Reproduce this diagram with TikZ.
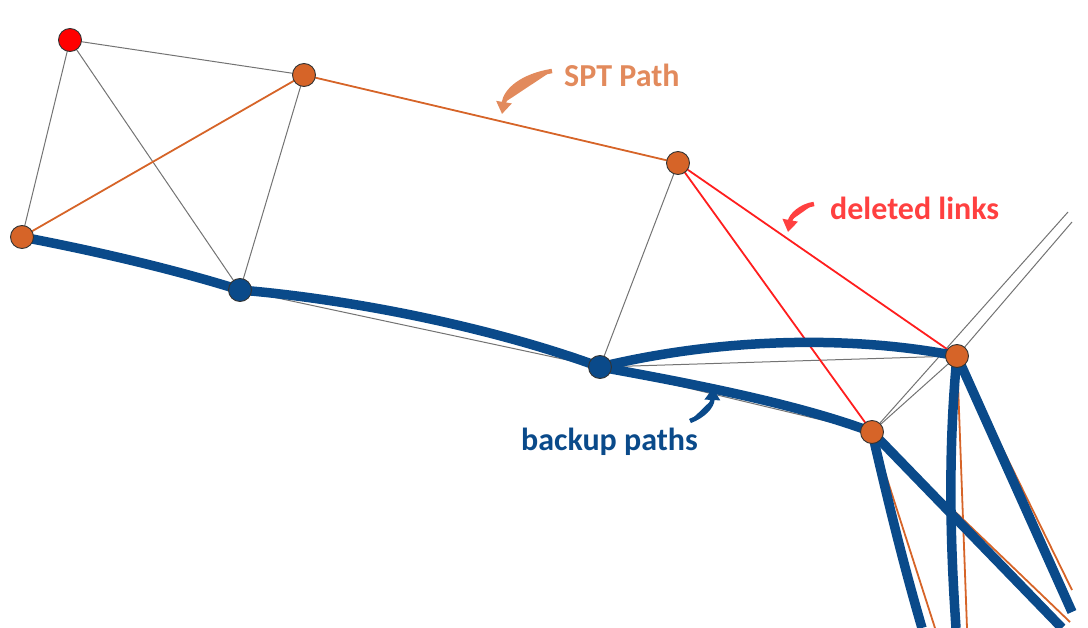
\documentclass[tikz,border=0pt]{standalone}
\usepackage{fontspec}
\setsansfont{Carlito}
\usepackage{tikz}
\usetikzlibrary{arrows.meta}

\definecolor{sptorange}{RGB}{214,100,40}
\definecolor{sptlabel}{RGB}{226,138,92}
\definecolor{delred}{RGB}{255,30,30}
\definecolor{dellabel}{RGB}{255,64,64}
\definecolor{bkblue}{RGB}{10,74,138}

\begin{document}
\begin{tikzpicture}[
    x=1pt, y=-1pt,
    router/.style={
        circle, draw=black!80, line width=0.9pt,
        fill=sptorange, minimum size=23pt, inner sep=0pt
    },
    backuprouter/.style={router, fill=bkblue},
    source/.style={router, fill=red},
    link/.style={draw=black!55, line width=1pt},
    sptlink/.style={draw=sptorange, line width=1.8pt},
    dellink/.style={draw=delred, line width=1.8pt},
    backup/.style={draw=bkblue, line width=9.5pt},
    tag/.style={font=\sffamily\bfseries\fontsize{32pt}{38pt}\selectfont, anchor=west, inner sep=0pt},
    pointer/.style={line width=4.5pt, -{Triangle[length=12pt, width=15pt]}},
]
\useasboundingbox (0,0) rectangle (1088,628);

% ---------- Routers ----------
\coordinate (r0) at (70,40);
\coordinate (r1) at (304,75);
\coordinate (r2) at (22,237);
\coordinate (r3) at (240,290);
\coordinate (r4) at (678,163);
\coordinate (r5) at (600,367);
\coordinate (r6) at (957,356);
\coordinate (r7) at (872,432);

% ---------- Links leaving the picture ----------
\coordinate (outA) at (1068,212);
\coordinate (outB) at (1072,222);
\coordinate (outC) at (922,628);
\coordinate (outD) at (935,628);
\coordinate (outE) at (1062,628);
\coordinate (outF) at (1070,622);
\coordinate (outG) at (956,628);
\coordinate (outH) at (967,628);
\coordinate (outI) at (1072,612);
\coordinate (outJ) at (1072,590);

% ---------- Plain links ----------
\draw[link] (r0) -- (r1);
\draw[link] (r0) -- (r2);
\draw[link] (r0) -- (r3);
\draw[link] (r1) -- (r3);
\draw[link] (r2) -- (r3);
\draw[link] (r3) -- (r5);
\draw[link] (r4) -- (r5);
\draw[link] (r5) -- (r6);
\draw[link] (r5) -- (r7);
\draw[link] (r7) -- (r6);
\draw[link] (r7) -- (outA);
\draw[link] (r6) -- (outB);

% ---------- SPT path ----------
\draw[sptlink] (r2) -- (r1);
\draw[sptlink] (r1) -- (r4);
\draw[sptlink] (r7) -- (outD);
\draw[sptlink] (r7) -- (outF);
\draw[sptlink] (r6) -- (outH);
\draw[sptlink] (r6) -- (outJ);

% ---------- Deleted links ----------
\draw[dellink] (r4) -- (r6);
\draw[dellink] (r4) -- (r7);

% ---------- Backup paths ----------
\draw[backup] (r2) .. controls (90,250) and (170,268) .. (r3);
\draw[backup] (r3) .. controls (360,300) and (500,330) .. (r5);
\draw[backup] (r5) .. controls (720,338) and (850,335) .. (r6);
\draw[backup] (r5) .. controls (700,385) and (800,405) .. (r7);
\draw[backup] (r7) .. controls (890,510) and (905,570) .. (outC);
\draw[backup] (r7) -- (outE);
\draw[backup] (r6) .. controls (948,450) and (950,540) .. (outG);
\draw[backup] (r6) -- (outI);

% ---------- Nodes on top ----------
\node[source] (n0) at (r0) {};
\node[router] (n1) at (r1) {};
\node[router] (n2) at (r2) {};
\node[backuprouter] (n3) at (r3) {};
\node[router] (n4) at (r4) {};
\node[backuprouter] (n5) at (r5) {};
\node[router] (n6) at (r6) {};
\node[router] (n7) at (r7) {};

% ---------- Labels ----------
\node[tag, text=sptlabel] (spt) at (564,75) {SPT Path};
\node[tag, text=dellabel] (del) at (830,208) {deleted links};
\node[tag, text=bkblue] (bk) at (521,442) {backup paths};

\draw[pointer, draw=sptlabel, fill=sptlabel] ([xshift=-12pt,yshift=4pt]spt.west) .. controls (522,76) and (506,90) .. (502,114);
\draw[pointer, draw=dellabel, fill=dellabel] ([xshift=-16pt,yshift=4pt]del.west) .. controls (800,206) and (791,216) .. (788,232);
\draw[pointer, draw=bkblue, fill=bkblue] ([xshift=-8pt,yshift=21pt]bk.east) .. controls (703,416) and (712,407) .. (713,388);

\end{tikzpicture}
\end{document}
